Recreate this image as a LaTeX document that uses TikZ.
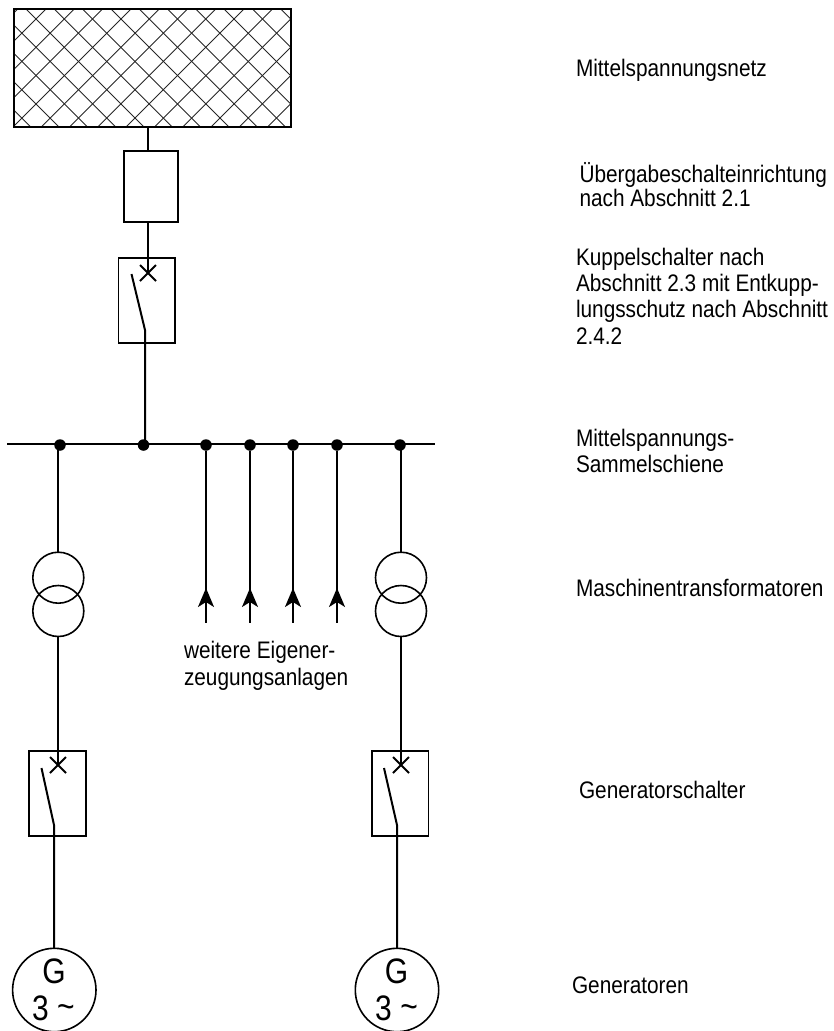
\documentclass[tikz,border=0pt]{standalone}
\usepackage{fontspec}
\setmainfont{Liberation Sans}
\usetikzlibrary{arrows.meta}
\newcommand{\tallt}[1]{\scalebox{1}[1.15]{#1}}
\newcommand{\tallg}[1]{\scalebox{1}[1.18]{#1}}
\tikzset{
 x=1pt,y=-1pt,
 wire/.style={line width=2pt,black},
 boxn/.style={draw,line width=1.9pt,inner sep=0pt,outer sep=0pt,rectangle},
 netbox/.style={boxn,minimum width=277pt,minimum height=118pt},
 fusebox/.style={boxn,minimum width=54pt,minimum height=71pt},
 switchbox/.style={boxn,minimum width=56.5pt,minimum height=85pt},
 junction/.style={circle,fill=black,inner sep=0pt,minimum size=11.5pt},
 trafo/.style={circle,draw,line width=1.6pt,inner sep=0pt,outer sep=0pt,minimum size=51pt},
 gen/.style={circle,draw,line width=1.6pt,inner sep=0pt,outer sep=0pt,minimum size=83.4pt},
 txt/.style={anchor=base west,inner sep=0pt,outer sep=0pt,font=\fontsize{20.8}{24}\selectfont},
 gentxt/.style={anchor=base,inner sep=0pt,outer sep=0pt,font=\fontsize{30}{30}\selectfont},
 hatch/.style={line width=0.9pt,black!85},
 feed/.style={-{Stealth[length=19pt,width=16pt,inset=5pt]},line width=2pt},
}
\begin{document}
\begin{tikzpicture}
\useasboundingbox (0,0) rectangle (833,1031);
% network
\node[netbox] (net) at (152.5,68) {};
\begin{scope}
\clip (net.north west) rectangle (net.south east);
\foreach \k in {-5,...,16}{
  \draw[hatch] ({26.5+28.3*\k},9.5) -- ({26.5+28.3*\k+118},127.5);
  \draw[hatch] ({45.5+28.3*\k},9.5) -- ({45.5+28.3*\k-118},127.5);
}
\end{scope}
\node[netbox] at (net) {};
% handover and coupling switch
\node[fusebox] (fuse) at (151,186.5) {};
\node[switchbox] (ks) at (146.7,300.8) {};
\coordinate (netout) at (148,127);
\coordinate (fusein) at (148,151);
\coordinate (fuseout) at (148,222);
\coordinate (ksx) at (148,273);
\coordinate (ksxa) at (140,265);
\coordinate (ksxb) at (156,281);
\coordinate (ksxc) at (156,265);
\coordinate (ksxd) at (140,281);
\coordinate (ksbt) at (131.5,274);
\coordinate (ksbb) at (145,330);
\draw[wire] (netout) -- (fusein);
\draw[wire] (fuseout) -- (ksx);
\draw[wire] (ksxa) -- (ksxb);
\draw[wire] (ksxc) -- (ksxd);
% bus
\coordinate (busl) at (7,444);
\coordinate (busr) at (435,444);
\draw[wire] (busl) -- (busr);
\node[junction] (j1) at (60,445) {};
\node[junction] (j2) at (143.5,445) {};
\node[junction] (j3) at (206,445) {};
\node[junction] (j4) at (250,445) {};
\node[junction] (j5) at (293,445) {};
\node[junction] (j6) at (337,445) {};
\node[junction] (j7) at (400,445) {};
\draw[wire] (ksbt) -- (ksbb) -- (ksbb |- j2);
% feeders
\foreach \j in {3,4,5,6}{
  \coordinate (tip\j) at (j\j |- 0,588);
  \coordinate (foot\j) at (j\j |- 0,622.7);
  \coordinate (base\j) at (j\j |- 0,607);
  \draw[wire] (j\j) -- (foot\j);
  \draw[feed] (base\j) -- (tip\j);
}
% left branch
\node[trafo] (tl1) at (58.3,577.7) {};
\node[trafo] (tl2) at (58.3,611) {};
\node[switchbox] (gl) at (57.5,793.5) {};
\node[gen] (g1) at (54.3,990) {};
\coordinate (lbus) at (58,445);
\coordinate (lx) at (58,765);
\coordinate (lxa) at (50,757);
\coordinate (lxb) at (66,773);
\coordinate (lxc) at (66,757);
\coordinate (lxd) at (50,773);
\coordinate (lbt) at (41.5,768);
\coordinate (lbb) at (54,825);
\coordinate (lgin) at (54,948);
\draw[wire] (lbus) -- (lbus |- tl1.north);
\draw[wire] (lbus |- tl2.south) -- (lx);
\draw[wire] (lxa) -- (lxb);
\draw[wire] (lxc) -- (lxd);
\draw[wire] (lbt) -- (lbb) -- (lgin);
% right branch
\node[trafo] (tr1) at (401,577.7) {};
\node[trafo] (tr2) at (401,611) {};
\node[switchbox] (gr) at (400.2,793.5) {};
\node[gen] (g2) at (397,990) {};
\coordinate (rbus) at (401,445);
\coordinate (rx) at (401,765);
\coordinate (rxa) at (393,757);
\coordinate (rxb) at (409,773);
\coordinate (rxc) at (409,757);
\coordinate (rxd) at (393,773);
\coordinate (rbt) at (384,768);
\coordinate (rbb) at (397,825);
\draw[wire] (rbus) -- (rbus |- tr1.north);
\draw[wire] (rbus |- tr2.south) -- (rx);
\draw[wire] (rxa) -- (rxb);
\draw[wire] (rxc) -- (rxd);
\draw[wire] (rbt) -- (rbb) -- (g2.north);
% generator text
\node[gentxt] (gt1) at (54,983) {\tallg{G}};
\node[gentxt] (gn1) at (53.5,1020) {\tallg{3 \raisebox{1pt}{\char"007E}}};
\node[gentxt] (gt2) at (396.5,983) {\tallg{G}};
\node[gentxt] (gn2) at (396.5,1020) {\tallg{3 \raisebox{1pt}{\char"007E}}};
% labels
\node[txt] (l1) at (576,76.7) {\tallt{Mittelspannungsnetz}};
\node[txt] (l2) at (579.5,182.7) {\tallt{Übergabeschalteinrichtung}};
\node[txt] (l3) at (579.5,206.7) {\tallt{nach Abschnitt 2.1}};
\node[txt] (l4) at (576,265) {\tallt{Kuppelschalter nach}};
\node[txt] (l5) at (576,291.7) {\tallt{Abschnitt 2.3 mit Entkupp-}};
\node[txt] (l6) at (576,317.7) {\tallt{lungsschutz nach Abschnitt}};
\node[txt] (l7) at (576,344) {\tallt{2.4.2}};
\node[txt] (l8) at (576,446) {\tallt{Mittelspannungs-}};
\node[txt] (l9) at (576,472.7) {\tallt{Sammelschiene}};
\node[txt] (l10) at (576,596.7) {\tallt{Maschinentransformatoren}};
\node[txt] (l11) at (579,798) {\tallt{Generatorschalter}};
\node[txt] (l12) at (572,993) {\tallt{Generatoren}};
\node[txt] (l13) at (184,658) {\tallt{weitere Eigener-}};
\node[txt] (l14) at (184,685.7) {\tallt{zeugungsanlagen}};
\end{tikzpicture}
\end{document}
